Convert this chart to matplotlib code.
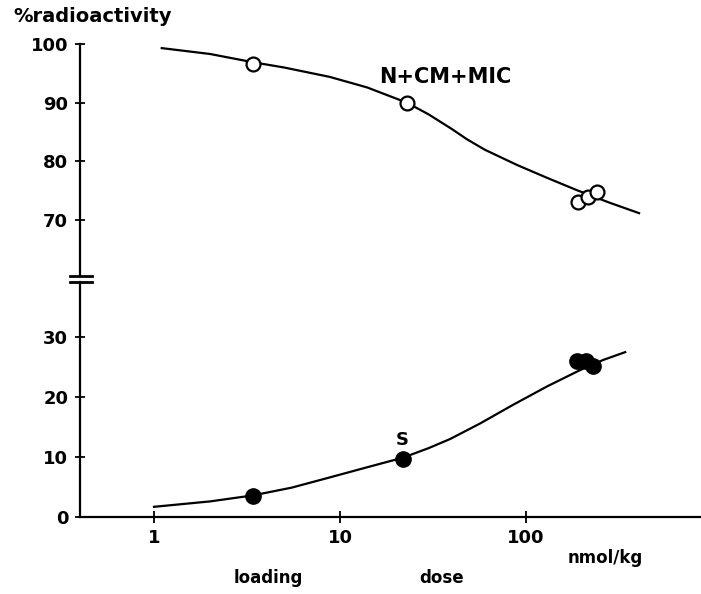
import numpy as np
import matplotlib
matplotlib.use('Agg')
import matplotlib.pyplot as plt

plt.rcParams['font.family'] = ['DejaVu Sans']
plt.rcParams['font.weight'] = 'bold'

# data (dose in nmol/kg, % radioactivity)
dose_open = [3.4, 22.9, 190, 215, 241]
pct_open = [96.6, 89.9, 73.1, 73.9, 74.8]
dose_filled = [3.4, 21.8, 188, 210, 229]
pct_filled = [3.5, 9.7, 26.0, 26.0, 25.2]

# fitted curves (hand traced)
curve_top_x = [1.1, 2.0, 3.4, 5.0, 8.8, 14, 22.9, 30, 40, 48, 60, 89.5,
               130, 188, 280, 405]
curve_top_y = [99.3, 98.3, 96.9, 96.0, 94.4, 92.6, 90.0, 88.0, 85.5, 83.8,
               82.0, 79.4, 77.2, 75.1, 73.0, 71.2]
curve_bot_x = [1.0, 2.0, 3.4, 5.5, 8.8, 14, 21.8, 30, 39, 56.6, 85, 130,
               195, 260, 341]
curve_bot_y = [1.7, 2.6, 3.6, 4.9, 6.6, 8.3, 9.9, 11.5, 13.0, 15.6, 18.7,
               21.8, 24.5, 26.2, 27.5]

xticks = [1, 10, 100]
xticklabels = ['1', '10', '100']
top_yticks = [70, 80, 90, 100]
bot_yticks = [0, 10, 20, 30]

W, H = 701, 594
fig = plt.figure(figsize=(W / 100, H / 100), dpi=100)

ax_b = fig.add_axes([80 / W, 77 / H, 620 / W, 235 / H])
ax_t = fig.add_axes([80 / W, 318 / H, 620 / W, 232 / H], sharex=ax_b)

for ax in (ax_t, ax_b):
    ax.set_xscale('log')
    ax.set_xlim(0.40, 861)
    ax.spines['top'].set_visible(False)
    ax.spines['right'].set_visible(False)
    ax.spines['left'].set_linewidth(1.6)
    ax.tick_params(axis='y', direction='inout', length=7, width=1.3,
                   labelsize=13, pad=5)
    ax.minorticks_off()

ax_t.spines['bottom'].set_visible(False)
ax_t.tick_params(axis='x', which='both', bottom=False, labelbottom=False)
ax_t.set_ylim(60.5, 100)
ax_t.set_yticks(top_yticks)

ax_b.spines['bottom'].set_linewidth(1.6)
ax_b.set_ylim(0, 39.2)
ax_b.set_yticks(bot_yticks)
ax_b.set_xticks(xticks)
ax_b.set_xticklabels(xticklabels)
ax_b.tick_params(axis='x', direction='inout', length=9, width=1.3,
                 labelsize=13, pad=4)
ax_b.xaxis.set_minor_locator(matplotlib.ticker.NullLocator())

# curves and points
ax_t.plot(curve_top_x, curve_top_y, color='black', lw=1.6, zorder=2)
ax_t.plot(dose_open, pct_open, 'o', ms=10, mfc='white', mec='black',
          mew=1.6, zorder=3)
ax_b.plot(curve_bot_x, curve_bot_y, color='black', lw=1.6, zorder=2)
ax_b.plot(dose_filled, pct_filled, 'o', ms=11, color='black', zorder=3)

# axis break marks
ax_t.plot([-0.016, 0.019], [0, 0], transform=ax_t.transAxes, color='black',
          lw=2, clip_on=False)
ax_b.plot([-0.016, 0.019], [1, 1], transform=ax_b.transAxes, color='black',
          lw=2, clip_on=False)

ax_t.text(36.7, 94.4, 'N+CM+MIC', fontsize=15, fontweight='bold',
          ha='center', va='center')
ax_b.text(21.5, 12.8, 'S', fontsize=13, fontweight='bold',
          ha='center', va='center')

fig.text(13 / W, 1 - 17 / H, '%radioactivity', fontsize=14,
         fontweight='bold', ha='left', va='center')
fig.text(605 / W, 1 - 558 / H, 'nmol/kg', fontsize=12, fontweight='bold',
         ha='center', va='center')
fig.text(268 / W, 1 - 578 / H, 'loading', fontsize=12, fontweight='bold',
         ha='center', va='center')
fig.text(442 / W, 1 - 578 / H, 'dose', fontsize=12, fontweight='bold',
         ha='center', va='center')

fig.savefig('out.png', dpi=100)
